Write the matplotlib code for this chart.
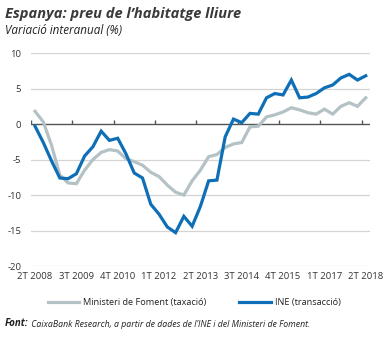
import matplotlib
matplotlib.use("Agg")
import matplotlib.pyplot as plt
from matplotlib.lines import Line2D

plt.rcParams['font.family'] = ['Open Sans', 'DejaVu Sans']

# Quarterly periods, 2T 2008 .. 2T 2018
quarters = []
for year in range(2008, 2019):
    for q in range(1, 5):
        if (year == 2008 and q < 2) or (year == 2018 and q > 2):
            continue
        quarters.append(f"{q}T {year}")

# Ministeri de Foment (taxació), % year-on-year
foment = [1.8, 0.3, -3.0, -7.2, -8.3, -8.4, -6.5, -5.0, -4.0, -3.6,
          -3.8, -4.9, -5.3, -5.8, -6.8, -7.4, -8.6, -9.6, -10.0, -8.0,
          -6.5, -4.6, -4.3, -3.3, -2.8, -2.6, -0.4, -0.3, 1.0, 1.3,
          1.7, 2.3, 2.0, 1.6, 1.4, 2.1, 1.4, 2.5, 3.0, 2.5, 3.7]

# INE (transacció), % year-on-year
ine = [-0.3, -2.6, -5.2, -7.6, -7.7, -7.0, -4.5, -3.2, -1.0, -2.3,
       -2.0, -4.2, -6.9, -7.6, -11.3, -12.7, -14.5, -15.3, -13.0, -14.4,
       -11.6, -8.0, -7.9, -1.8, 0.7, 0.2, 1.5, 1.4, 3.7, 4.3,
       4.1, 6.2, 3.7, 3.8, 4.3, 5.1, 5.5, 6.5, 7.0, 6.2, 6.8]

label_every = 5
yticks = [-20, -15, -10, -5, 0, 5, 10]

grey = "#b4c1c5"
blue = "#0f6fb6"
text_col = "#333333"

fig = plt.figure(figsize=(3.91, 3.38), dpi=100)
ax = fig.add_axes([0.079, 0.213, 0.867, 0.630])

x = list(range(len(quarters)))
ax.plot(x, foment, color=grey, lw=2.3, solid_joinstyle='miter', zorder=3)
ax.plot(x, ine, color=blue, lw=2.3, solid_joinstyle='miter', zorder=4)

ax.set_xlim(-0.5, len(quarters) - 0.5)
ax.set_ylim(-20, 10)

# horizontal grid
for v in yticks:
    if v != 0:
        ax.axhline(v, color="#d4d4d4", lw=0.9, zorder=1)
ax.axhline(0, color="#555555", lw=1.0, zorder=2)

# category tick marks on the zero line (between categories)
tick_idx = x[::label_every]
ax.vlines([i - 0.5 for i in tick_idx], 0, 0.55, color="#555555", lw=1.0, zorder=2)

ax.set_xticks(tick_idx)
ax.set_xticklabels([quarters[i] for i in tick_idx])
ax.set_yticks(yticks)
ax.set_yticklabels([str(v) for v in yticks])
ax.tick_params(axis='both', length=0, labelsize=6.8, colors=text_col)
ax.tick_params(axis='x', pad=4)
ax.tick_params(axis='y', pad=7)
for s in ax.spines.values():
    s.set_visible(False)

fig.text(0.013, 0.948, "Espanya: preu de l\u2019habitatge lliure", fontsize=10.5,
         fontweight='bold', fontstyle='italic', color="#3a3a3a", va='baseline')
fig.text(0.013, 0.898, "Variació interanual (%)", fontsize=8.4,
         fontstyle='italic', color="#222222", va='baseline')

handles = [Line2D([], [], color=grey, lw=2.3), Line2D([], [], color=blue, lw=2.3)]
fig.legend(handles, ["Ministeri de Foment (taxació)", "INE (transacció)"],
           loc='center left', bbox_to_anchor=(0.113, 0.104), ncol=2, frameon=False,
           fontsize=6.6, handlelength=3.4, handletextpad=0.45, columnspacing=3.6,
           labelcolor="#222222", borderaxespad=0)

src = fig.text(0.013, 0.035, "Font:", fontsize=7.0, fontweight='bold',
               fontstyle='italic', color="#222222", va='baseline')
ax.annotate(" CaixaBank Research, a partir de dades de l\u2019INE i del Ministeri de Foment.",
            xy=(1, 0), xycoords=src, xytext=(0, 0), textcoords='offset points',
            fontsize=6.3, fontstyle='italic', color="#222222", va='bottom',
            annotation_clip=False)

fig.savefig("out.png", dpi=100)
